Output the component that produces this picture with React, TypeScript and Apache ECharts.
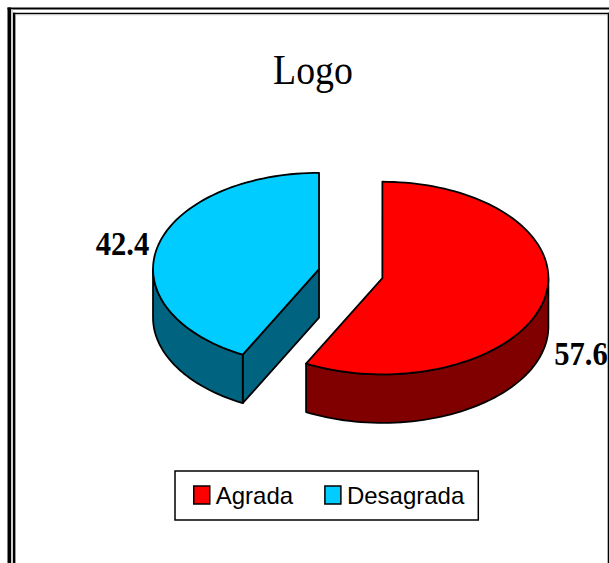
import React, { useEffect, useRef } from "react";
import * as echarts from "echarts";

const categories = ["Agrada", "Desagrada"];
const values = [57.6, 42.4];
const labels = ["57.6", "42.4"];
const topColors = ["#ff0000", "#00ccff"];
const sideColors = ["#800000", "#006480"];
const labelPositions: [number, number][] = [[581, 353.5], [122.5, 243]];

const W = 609;
const H = 563;
const CX = 350.7;
const CY = 273.6;
const RX = 166;
const RY = 96.3;
const DEPTH = 48.5;
const EXPLODE = 32.6;
const TOTAL = values.reduce((a, b) => a + b, 0);

const pt = (cx: number, cy: number, deg: number, dy = 0): number[] => {
  const r = (deg * Math.PI) / 180;
  return [cx + RX * Math.sin(r), cy - RY * Math.cos(r) + dy];
};

const arcPts = (cx: number, cy: number, from: number, to: number, dy = 0) => {
  const out: number[][] = [];
  const n = Math.max(2, Math.ceil(Math.abs(to - from) / 2));
  for (let i = 0; i <= n; i++) out.push(pt(cx, cy, from + ((to - from) * i) / n, dy));
  return out;
};

const sliceItem = (idx: number) => () => {
  const before = values.slice(0, idx).reduce((a, b) => a + b, 0);
  const a0 = (before / TOTAL) * 360;
  const a1 = ((before + values[idx]) / TOTAL) * 360;
  const mid = (a0 + a1) / 2;
  const m = (mid * Math.PI) / 180;
  const cx = CX + EXPLODE * Math.sin(m);
  const cy = CY - (EXPLODE * Math.cos(m) * RY) / RX;
  const stroke = { stroke: "#000", lineWidth: 1.8, lineJoin: "round" };
  const children: any[] = [];
  const poly = (points: number[][], fill: string) =>
    children.push({ type: "polygon", shape: { points }, style: { fill, ...stroke } });

  // radial wall that faces the viewer
  if (a0 > 90 && a0 < 270) {
    const c = [cx, cy];
    const e = pt(cx, cy, a0);
    poly([c, e, [e[0], e[1] + DEPTH], [c[0], c[1] + DEPTH]], sideColors[idx]);
  }
  // outer wall: the part of the rim on the front half of the ellipse
  const s = Math.max(a0, 90);
  const t = Math.min(a1, 270);
  if (t > s) {
    const topEdge = arcPts(cx, cy, s, t);
    const bottomEdge = arcPts(cx, cy, t, s, DEPTH);
    poly([...topEdge, ...bottomEdge], sideColors[idx]);
  }
  // top face
  poly([[cx, cy], ...arcPts(cx, cy, a0, a1)], topColors[idx]);
  return { type: "group", children };
};

const bar = (x: number, y: number, width: number, height: number, fill: string) => ({
  type: "rect",
  silent: true,
  shape: { x, y, width, height },
  style: { fill },
});

export default function App() {
  const ref = useRef<HTMLDivElement>(null);
  useEffect(() => {
    const chart = echarts.init(ref.current!, undefined, { renderer: "svg" });
    chart.setOption({
      animation: false,
      backgroundColor: "#fff",
      legend: {
        left: 175,
        top: 471,
        padding: [12, 14, 13, 18],
        borderColor: "#000",
        borderWidth: 1.5,
        icon: "rect",
        itemWidth: 16,
        itemHeight: 18,
        itemGap: 31,
        itemStyle: { borderColor: "#000", borderWidth: 1.5 },
        textStyle: { fontFamily: "Liberation Sans", fontSize: 24, color: "#000", padding: [0, 0, 0, 1] },
        selectedMode: false,
        data: categories,
      },
      series: categories.map((name, i) => ({
        type: "custom",
        name,
        coordinateSystem: "none",
        silent: true,
        itemStyle: { color: topColors[i] },
        data: [values[i]],
        renderItem: sliceItem(i),
      })),
      graphic: [
        // double page frame, heavier on the left than along the top
        bar(7.5, 7.5, 602, 2, "#000"),
        bar(7.5, 7.5, 3.5, 556, "#000"),
        bar(11, 9.5, 2, 554, "#cfcfcf"),
        bar(13, 12.7, 596, 1.6, "#000"),
        bar(13, 12.7, 2.4, 551, "#000"),
        bar(15.4, 14.3, 592, 1, "#c4c4c4"),
        bar(607.7, 12.7, 1.3, 551, "#000"),
        { type: "text", silent: true, x: 313, y: 69.5, scaleX: 0.9, style: { text: "Logo", font: '42px "Liberation Serif"', fill: "#000", align: "center", verticalAlign: "middle" } },
        ...labels.map((text, i) => ({
          type: "text",
          silent: true,
          x: labelPositions[i][0],
          y: labelPositions[i][1],
          scaleX: 0.9,
          style: { text, font: 'bold 34px "Liberation Serif"', fill: "#000", align: "center", verticalAlign: "middle" },
        })),
      ],
    });
    return () => chart.dispose();
  }, []);
  return <div ref={ref} style={{ position: "absolute", left: 0, top: 0, width: W, height: H }} />;
}
